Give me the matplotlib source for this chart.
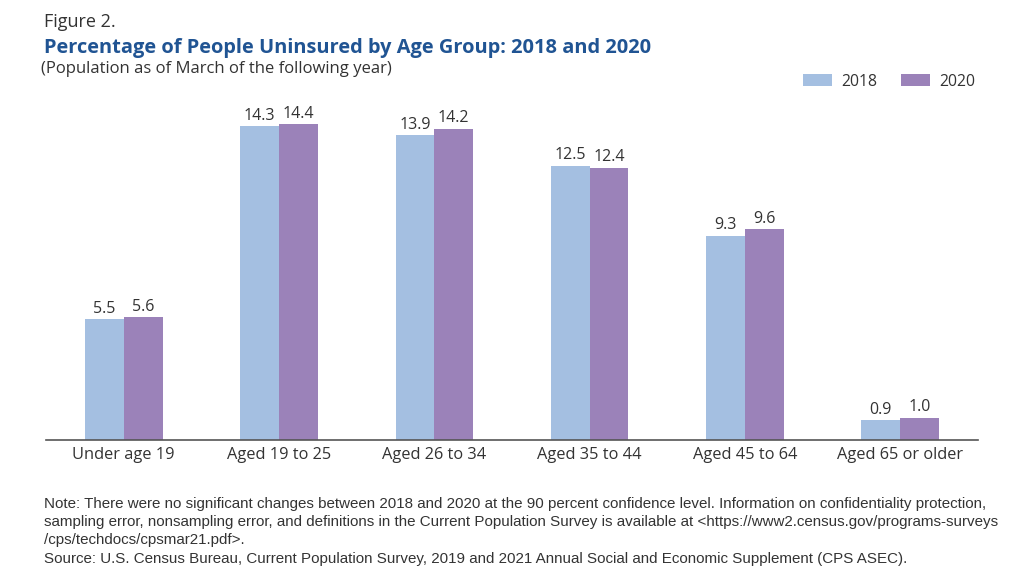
import matplotlib.pyplot as plt
import numpy as np

plt.rcParams['font.family'] = ['Open Sans', 'DejaVu Sans']

categories = ["Under age 19", "Aged 19 to 25", "Aged 26 to 34", "Aged 35 to 44", "Aged 45 to 64", "Aged 65 or older"]
vals_2018 = [5.5, 14.3, 13.9, 12.5, 9.3, 0.9]
vals_2020 = [5.6, 14.4, 14.2, 12.4, 9.6, 1.0]
years = ["2018", "2020"]

c18 = "#a4bfe1"
c20 = "#9b82b9"
txt = "#333333"

fig = plt.figure(figsize=(10.24, 5.74), dpi=100)
ax = fig.add_axes([0.045, 0.2334, 0.910, 0.5923])

x = np.arange(len(categories))
w = 0.25
b1 = ax.bar(x - w/2, vals_2018, w, color=c18, label=years[0])
b2 = ax.bar(x + w/2, vals_2020, w, color=c20, label=years[1])

# value labels
for bars, vals in [(b1, vals_2018), (b2, vals_2020)]:
    for r, v in zip(bars, vals):
        ax.text(r.get_x() + r.get_width()/2, v + 0.12, f"{v:.1f}", ha="center", va="bottom",
                fontsize=11.5, color=txt)

ax.set_xlim(-0.5, 5.5)
ax.set_ylim(0, 15.5)
ax.set_yticks([])
for s in ["top", "right", "left"]:
    ax.spines[s].set_visible(False)
ax.spines["bottom"].set_color("#555555")
ax.spines["bottom"].set_linewidth(1.2)
ax.set_xticks(x)
ax.set_xticklabels(categories, fontsize=11.8, color=txt)
ax.tick_params(axis="x", length=0, pad=5)

leg = fig.legend(handles=[b1, b2], labels=years, ncol=2, loc="center right",
                 bbox_to_anchor=(0.966, 0.858), frameon=False, fontsize=11.3,
                 handlelength=1.9, handleheight=0.8, columnspacing=1.5, handletextpad=0.55)
for t in leg.get_texts():
    t.set_color(txt)

fig.text(0.043, 0.962, "Figure 2.", fontsize=13, color=txt, va="center")
fig.text(0.043, 0.917, "Percentage of People Uninsured by Age Group: 2018 and 2020",
         fontsize=14.4, fontweight="bold", color="#205493", va="center")
fig.text(0.040, 0.879, "(Population as of March of the following year)", fontsize=12,
         color=txt, va="center")

note = ("Note: There were no significant changes between 2018 and 2020 at the 90 percent confidence level. "
        "Information on confidentiality protection,\n"
        "sampling error, nonsampling error, and definitions in the Current Population Survey is available at "
        "<https://www2.census.gov/programs-surveys\n"
        "/cps/techdocs/cpsmar21.pdf>.\n"
        "Source: U.S. Census Bureau, Current Population Survey, 2019 and 2021 Annual Social and Economic "
        "Supplement (CPS ASEC).")
fig.text(0.043, 0.135, note, fontsize=10.9, color=txt, va="top", linespacing=1.4,
         family=["Liberation Sans", "DejaVu Sans"])

fig.savefig("out.png", dpi=100)
